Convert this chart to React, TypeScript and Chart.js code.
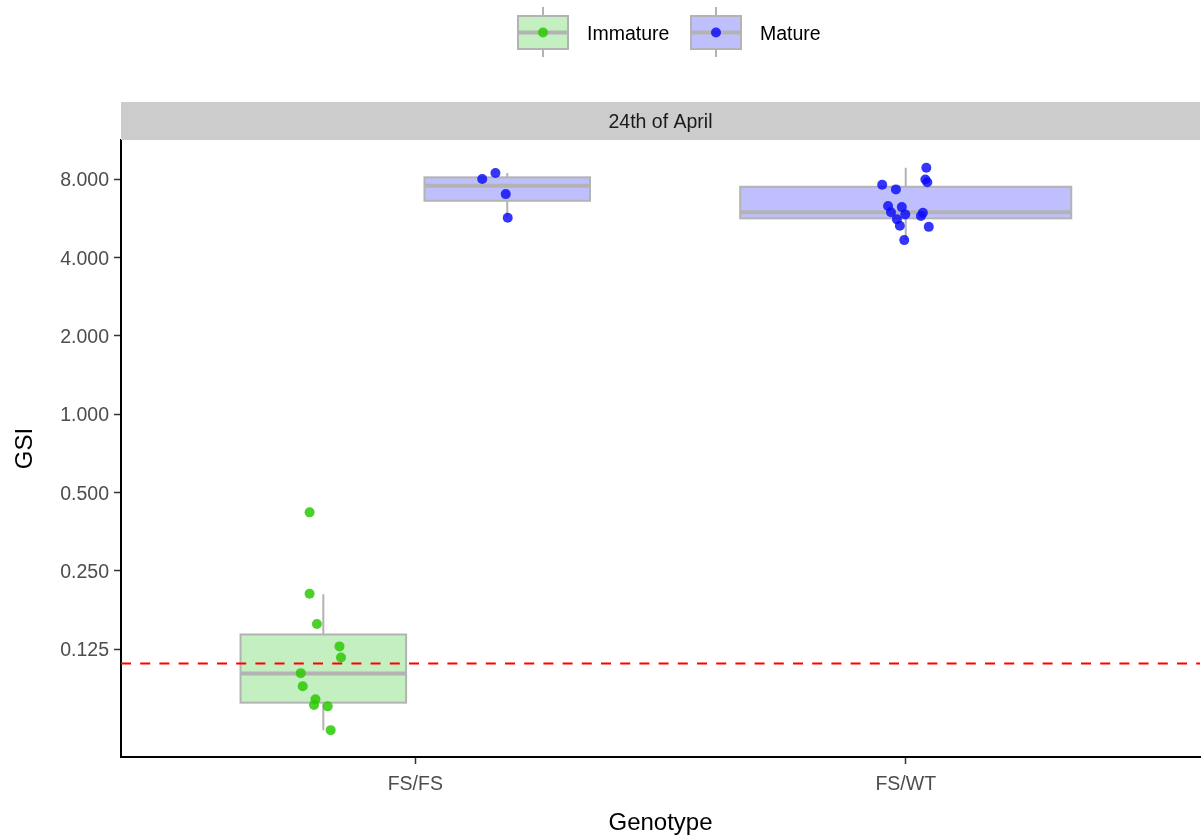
import { useEffect, useRef } from "react";
import { Chart, registerables } from "chart.js";

Chart.register(...registerables);

// ---- data ----
const genotypes = ["FS/FS", "FS/WT"];
const maturityStages = ["Immature", "Mature"];
const panelTitle = "24th of April";
const yTickValues = [0.125, 0.25, 0.5, 1, 2, 4, 8];
const thresholdGSI = 0.11;

// Box summaries: [lower whisker, Q1, median, Q3, upper whisker]
const immatureFsFsBox = [0.061, 0.0778, 0.1008, 0.1422, 0.2031];
const matureFsFsBox = [5.7, 6.6, 7.54, 8.12, 8.44];
const matureFsWtBox = [4.66, 5.65, 5.96, 7.47, 8.84];

// Individual fish (GSI) with their horizontal jitter offsets
const immatureFsFsGSI = [0.419, 0.204, 0.156, 0.128, 0.116, 0.101, 0.0899, 0.0802, 0.0762, 0.0753, 0.061];
const immatureFsFsJitter = [-0.028, -0.028, -0.013, 0.033, 0.036, -0.046, -0.042, -0.016, -0.019, 0.009, 0.015];
const matureFsFsGSI = [8.0, 8.44, 7.0, 5.68];
const matureFsFsJitter = [-0.051, -0.024, -0.003, 0.001];
const matureFsWtGSI = [8.84, 7.97, 7.77, 7.61, 7.3, 6.3, 6.24, 5.96, 5.85, 5.94, 5.77, 5.6, 5.29, 5.24, 4.66];
const matureFsWtJitter = [0.042, 0.04, 0.044, -0.048, -0.02, -0.036, -0.008, -0.03, -0.001, 0.035, 0.031, -0.018, -0.012, 0.047, -0.003];

// ---- styling ----
const FONT = "'Liberation Sans', Arial, Helvetica, sans-serif";
const stageFill = ["#c4efc0", "#bfbffe"];
const stagePoint = ["rgba(45,200,5,0.85)", "rgba(10,10,250,0.82)"];
const boxLine = "#b3b3b3";

type BoxGroup = { genotype: number; stage: number; stats: number[]; values: number[]; jitter: number[] };

const groups: BoxGroup[] = [
  { genotype: 0, stage: 0, stats: immatureFsFsBox, values: immatureFsFsGSI, jitter: immatureFsFsJitter },
  { genotype: 0, stage: 1, stats: matureFsFsBox, values: matureFsFsGSI, jitter: matureFsFsJitter },
  { genotype: 1, stage: 1, stats: matureFsWtBox, values: matureFsWtGSI, jitter: matureFsWtJitter },
];

// dodge placement: 0.75 of a category shared between the boxes present, 10% padding
function placement(g: BoxGroup) {
  const same = groups.filter((o) => o.genotype === g.genotype);
  const slot = 0.75 / same.length;
  const idx = same.indexOf(g);
  const center = g.genotype + 1 - 0.375 + slot * (idx + 0.5);
  return { center, width: slot * 0.9 };
}

const boxPlugin = {
  id: "gsiBoxes",
  beforeDatasetsDraw(chart: any) {
    const { ctx, chartArea, scales } = chart;
    const x = scales.x;
    const y = scales.y;
    ctx.save();
    ctx.beginPath();
    ctx.rect(chartArea.left, chartArea.top, chartArea.right - chartArea.left, chartArea.bottom - chartArea.top);
    ctx.clip();
    for (const g of groups) {
      const { center, width } = placement(g);
      const cx = x.getPixelForValue(center);
      const left = x.getPixelForValue(center - width / 2);
      const right = x.getPixelForValue(center + width / 2);
      const [lo, q1, med, q3, hi] = g.stats.map((v) => y.getPixelForValue(v));
      ctx.strokeStyle = boxLine;
      ctx.lineWidth = 2;
      ctx.beginPath();
      ctx.moveTo(cx, q3);
      ctx.lineTo(cx, hi);
      ctx.moveTo(cx, q1);
      ctx.lineTo(cx, lo);
      ctx.stroke();
      ctx.fillStyle = stageFill[g.stage];
      ctx.fillRect(left, q3, right - left, q1 - q3);
      ctx.strokeRect(left, q3, right - left, q1 - q3);
      ctx.lineWidth = 4;
      ctx.beginPath();
      ctx.moveTo(left, med);
      ctx.lineTo(right, med);
      ctx.stroke();
    }
    ctx.restore();
  },
};

const decorPlugin = {
  id: "gsiDecor",
  afterDraw(chart: any) {
    const { ctx, chartArea } = chart;
    ctx.save();
    // facet strip
    ctx.fillStyle = "#cccccc";
    ctx.fillRect(chartArea.left, chartArea.top - 38, chartArea.right - chartArea.left, 38);
    ctx.fillStyle = "#1a1a1a";
    ctx.font = `19.5px ${FONT}`;
    ctx.textAlign = "center";
    ctx.textBaseline = "middle";
    ctx.fillText(panelTitle, (chartArea.left + chartArea.right) / 2, chartArea.top - 17);

    // axis titles
    ctx.fillStyle = "#000000";
    ctx.font = `24px ${FONT}`;
    ctx.fillText("Genotype", (chartArea.left + chartArea.right) / 2, 823);
    ctx.save();
    ctx.translate(25, (chartArea.top + chartArea.bottom) / 2);
    ctx.rotate(-Math.PI / 2);
    ctx.fillText("GSI", 0, 0);
    ctx.restore();

    // legend
    const keyLefts = [518, 691];
    maturityStages.forEach((label, i) => {
      const kx = keyLefts[i];
      const cx = kx + 25;
      ctx.strokeStyle = boxLine;
      ctx.lineWidth = 2;
      ctx.beginPath();
      ctx.moveTo(cx, 7);
      ctx.lineTo(cx, 57);
      ctx.stroke();
      ctx.fillStyle = stageFill[i];
      ctx.fillRect(kx, 16, 50, 33);
      ctx.strokeRect(kx, 16, 50, 33);
      ctx.lineWidth = 4;
      ctx.beginPath();
      ctx.moveTo(kx, 32.5);
      ctx.lineTo(kx + 50, 32.5);
      ctx.stroke();
      ctx.fillStyle = stagePoint[i];
      ctx.beginPath();
      ctx.arc(cx, 32.5, 5, 0, Math.PI * 2);
      ctx.fill();
      ctx.fillStyle = "#000000";
      ctx.font = `19.5px ${FONT}`;
      ctx.textAlign = "left";
      ctx.textBaseline = "middle";
      ctx.fillText(label, kx + 69, 35);
    });
    ctx.restore();
  },
};

export default function App() {
  const canvasRef = useRef<HTMLCanvasElement | null>(null);

  useEffect(() => {
    const canvas = canvasRef.current;
    if (!canvas) return;

    const pointSets = groups.map((g) => {
      const { center } = placement(g);
      return {
        type: "scatter" as const,
        label: `${maturityStages[g.stage]} ${genotypes[g.genotype]}`,
        data: g.values.map((v, i) => ({ x: center + g.jitter[i], y: v })),
        backgroundColor: stagePoint[g.stage],
        borderWidth: 0,
        pointRadius: 5,
        order: 0,
      };
    });

    const chart = new Chart(canvas, {
      type: "scatter",
      data: {
        datasets: [
          ...pointSets,
          {
            type: "line" as const,
            label: "threshold",
            data: [
              { x: 0.4, y: thresholdGSI },
              { x: 2.6, y: thresholdGSI },
            ],
            borderColor: "#ff0000",
            borderWidth: 2,
            borderDash: [10, 9.2],
            pointRadius: 0,
            order: 1,
          },
        ] as any,
      },
      options: {
        animation: false,
        responsive: false,
        devicePixelRatio: 1,
        layout: { autoPadding: false, padding: { top: 140, left: 0, right: 1, bottom: 0 } },
        plugins: { legend: { display: false }, tooltip: { enabled: false } },
        scales: {
          x: {
            type: "linear",
            min: 0.4,
            max: 2.6,
            afterBuildTicks: (scale: any) => {
              scale.ticks = genotypes.map((_, i) => ({ value: i + 1 }));
            },
            afterFit: (scale: any) => {
              scale.height = 82;
              scale.paddingLeft = 0;
              scale.paddingRight = 0;
            },
            ticks: {
              autoSkip: false,
              padding: 9,
              color: "#4d4d4d",
              font: { family: FONT, size: 19.5 },
              callback: (v: any) => genotypes[Number(v) - 1] ?? "",
            },
            grid: { drawOnChartArea: false, drawTicks: true, tickLength: 7, tickColor: "#333333", tickWidth: 1.5 },
            border: { display: true, color: "#000000", width: 2 },
          },
          y: {
            type: "logarithmic",
            min: 0.0481,
            max: 11.3,
            afterBuildTicks: (scale: any) => {
              scale.ticks = yTickValues.map((v) => ({ value: v }));
            },
            afterFit: (scale: any) => {
              scale.width = 121;
              scale.paddingTop = 0;
              scale.paddingBottom = 0;
            },
            ticks: {
              autoSkip: false,
              padding: 5,
              labelOffset: 2,
              color: "#4d4d4d",
              font: { family: FONT, size: 19.5 },
              callback: (v: any) => Number(v).toFixed(3),
            },
            grid: { drawOnChartArea: false, drawTicks: true, tickLength: 7, tickColor: "#333333", tickWidth: 1.5 },
            border: { display: true, color: "#000000", width: 2 },
          },
        },
      } as any,
      plugins: [boxPlugin, decorPlugin],
    });

    return () => chart.destroy();
  }, []);

  return (
    <div style={{ position: "absolute", left: 0, top: 0, width: 1201, height: 839, background: "#ffffff" }}>
      <canvas ref={canvasRef} width={1201} height={839} style={{ display: "block" }} />
    </div>
  );
}
